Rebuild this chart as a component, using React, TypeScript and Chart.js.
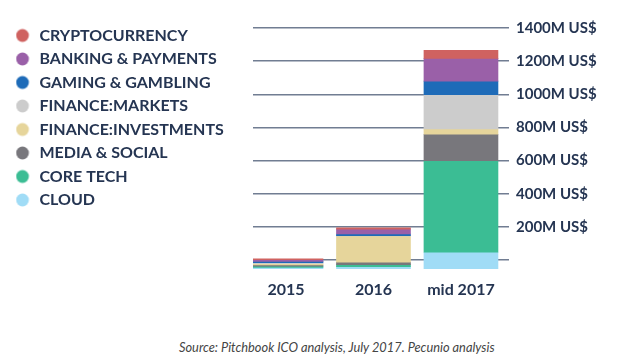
import React, { useEffect, useRef } from 'react';
import { Chart, registerables } from 'chart.js';

Chart.register(...registerables);

// ---- data ----
const CATEGORIES = ['2015', '2016', 'mid 2017'];
// values in M US$, per category [2015, 2016, mid 2017]
const CRYPTOCURRENCY = [5, 8, 49];
const BANKING_PAYMENTS = [10, 30, 137];
const GAMING_GAMBLING = [8, 10, 81];
const FINANCE_MARKETS = [6, 2, 207];
const FINANCE_INVESTMENTS = [8, 158, 32];
const MEDIA_SOCIAL = [7, 15, 160];
const CORE_TECH = [7, 12, 552];
const CLOUD = [8, 12, 99];
// the stacks in the source start slightly below the 0 line
const BAR_START = -52;
const Y_TICKS = [0, 200, 400, 600, 800, 1000, 1200, 1400];
const Y_UNIT = 'M US$';
const SOURCE_NOTE = 'Source: Pitchbook ICO analysis, July 2017. Pecunio analysis';

// legend order (top of stack first)
const SERIES = [
  { name: 'CRYPTOCURRENCY', values: CRYPTOCURRENCY, color: '#cf6260' },
  { name: 'BANKING & PAYMENTS', values: BANKING_PAYMENTS, color: '#9a60a8' },
  { name: 'GAMING & GAMBLING', values: GAMING_GAMBLING, color: '#1e6bb8' },
  { name: 'FINANCE:MARKETS', values: FINANCE_MARKETS, color: '#cccccc' },
  { name: 'FINANCE:INVESTMENTS', values: FINANCE_INVESTMENTS, color: '#e6d59b' },
  { name: 'MEDIA & SOCIAL', values: MEDIA_SOCIAL, color: '#78777c' },
  { name: 'CORE TECH', values: CORE_TECH, color: '#3bbd94' },
  { name: 'CLOUD', values: CLOUD, color: '#a0dcf6' },
];

const TEXT = '#253552';
const FONT = 'Lato';
const CANVAS_W = 618;
const CANVAS_H = 300;

function makeDot(color: string) {
  const c = document.createElement('canvas');
  c.width = 16;
  c.height = 16;
  const g = c.getContext('2d')!;
  g.fillStyle = color;
  g.beginPath();
  g.arc(7, 8, 6.4, 0, Math.PI * 2);
  g.fill();
  return c;
}

export default function App() {
  const ref = useRef<HTMLCanvasElement | null>(null);

  useEffect(() => {
    if (!ref.current) return;

    // floating segments built bottom -> top
    const segs: Record<string, [number, number][]> = {};
    const cums = CATEGORIES.map(() => BAR_START);
    [...SERIES].reverse().forEach((s) => {
      segs[s.name] = CATEGORIES.map((_, i) => {
        const a = cums[i];
        cums[i] = a + s.values[i];
        return [a, cums[i]];
      });
    });

    const dots = SERIES.map((s) => makeDot(s.color));

    const legendWidth = {
      id: 'legendWidth',
      afterInit(chart: any) {
        const l = chart.legend;
        if (!l) return;
        const orig = l.fit;
        l.fit = function () {
          orig.call(this);
          this.width = 245;
        };
      },
    };

    const chart = new Chart(ref.current, {
      type: 'bar',
      data: {
        datasets: SERIES.map((s) => ({
          label: s.name,
          data: CATEGORIES.map((_, i) => ({ x: i, y: segs[s.name][i] })) as any,
          backgroundColor: s.color,
          borderWidth: 0,
          barThickness: 74,
          grouped: false,
        })),
      },
      options: {
        animation: false,
        responsive: false,
        layout: { padding: { top: 12, right: 0, bottom: 0, left: 0 } },
        scales: {
          x: {
            type: 'linear',
            min: -0.377,
            max: 2.549,
            bounds: 'data',
            offset: false,
            grid: { display: false, drawTicks: false },
            border: { display: false },
            afterBuildTicks: (s: any) => {
              s.ticks = CATEGORIES.map((_, i) => ({ value: i }));
            },
            afterFit: (s: any) => {
              s.height = 38;
            },
            ticks: {
              autoSkip: false,
              padding: 10,
              color: TEXT,
              font: { family: FONT, size: 16, weight: 'bold', lineHeight: 1.2 },
              callback: (v: any) => CATEGORIES[v] ?? '',
            },
          },
          y: {
            position: 'right',
            min: -60,
            max: 1423.7,
            bounds: 'data',
            grid: { color: '#717d92', lineWidth: 1.5, drawTicks: false },
            border: { display: false },
            afterBuildTicks: (s: any) => {
              s.ticks = Y_TICKS.map((v) => ({ value: v }));
            },
            afterFit: (s: any) => {
              s.width = 117;
            },
            ticks: {
              autoSkip: false,
              padding: 7,
              color: TEXT,
              font: { family: FONT, size: 15, weight: 'bold' },
              callback: (v: any) => (v === 0 ? '' : `${v}${Y_UNIT}`),
            },
          },
        },
        plugins: {
          legend: {
            position: 'left',
            align: 'start',
            labels: {
              usePointStyle: true,
              boxWidth: 16,
              boxHeight: 16,
              padding: 7.5,
              color: TEXT,
              font: { family: FONT, size: 16, weight: 'bold' },
              generateLabels: (c: any) => {
                const items = (Chart.defaults.plugins.legend.labels as any).generateLabels(c);
                return items.map((it: any) => ({ ...it, pointStyle: dots[it.datasetIndex] }));
              },
            },
          },
          tooltip: { enabled: false },
        },
      } as any,
      plugins: [legendWidth],
    });

    return () => chart.destroy();
  }, []);

  return (
    <div style={{ position: 'relative', width: CANVAS_W, height: 347 }}>
      <canvas ref={ref} width={CANVAS_W} height={CANVAS_H} style={{ display: 'block' }} />
      <div
        style={{
          position: 'absolute',
          left: 171,
          top: 332,
          fontFamily: FONT,
          fontStyle: 'italic',
          fontSize: 12.8,
          lineHeight: '14px',
          color: '#444',
          whiteSpace: 'nowrap',
        }}
      >
        {SOURCE_NOTE}
      </div>
    </div>
  );
}
